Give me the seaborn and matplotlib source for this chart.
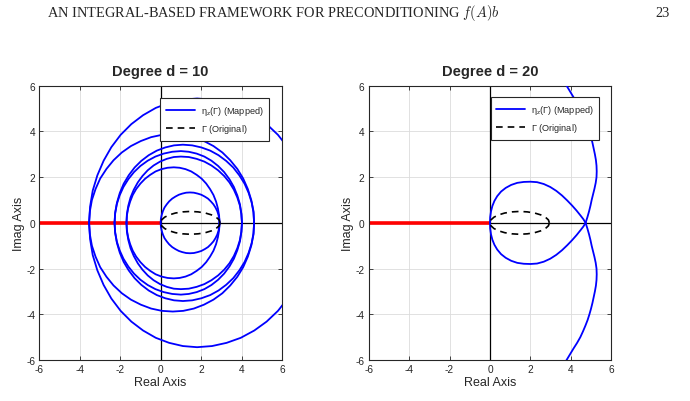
import numpy as np
import matplotlib
matplotlib.use('Agg')
import matplotlib.pyplot as plt
from matplotlib.lines import Line2D
import seaborn as sns

# ---- datos (mitad superior, la curva es simetrica) ----
ticks = [-6, -4, -2, 0, 2, 4, 6]
titulos = ['Degree d = 10', 'Degree d = 20']

# contorno original Gamma (mitad superior)
gamma_x = [2.94, 2.89, 2.74, 2.51, 2.21, 1.85, 1.47, 1.09, 0.73, 0.43, 0.20, 0.05, 0.00]
gamma_y = [0.00, 0.13, 0.25, 0.35, 0.43, 0.48, 0.50, 0.48, 0.43, 0.35, 0.25, 0.13, 0.00]

# d = 10, arcos de la curva mapeada
d10_arc0_x = [0.00, 0.01, 0.05, 0.11, 0.19, 0.30, 0.42, 0.57, 0.73, 0.90, 1.07, 1.26, 1.45,
              1.64, 1.83, 2.01, 2.18, 2.34, 2.48, 2.61, 2.71, 2.80, 2.86, 2.90, 2.91]
d10_arc0_y = [0.00, 0.17, 0.34, 0.51, 0.67, 0.81, 0.94, 1.06, 1.15, 1.23, 1.28, 1.32, 1.33,
              1.32, 1.28, 1.23, 1.15, 1.06, 0.94, 0.81, 0.67, 0.51, 0.34, 0.17, 0.00]
d10_arc1_x = [-1.69, -1.67, -1.61, -1.51, -1.38, -1.21, -1.00, -0.77, -0.52, -0.25, 0.04, 0.34, 0.65,
              0.94, 1.23, 1.51, 1.78, 2.03, 2.25, 2.44, 2.61, 2.74, 2.83, 2.89, 2.91]
d10_arc1_y = [0.00, 0.32, 0.63, 0.93, 1.22, 1.48, 1.72, 1.93, 2.10, 2.25, 2.35, 2.41, 2.43,
              2.41, 2.35, 2.25, 2.10, 1.93, 1.72, 1.48, 1.22, 0.93, 0.63, 0.32, 0.00]
d10_arc2_x = [-1.69, -1.67, -1.60, -1.49, -1.33, -1.13, -0.90, -0.64, -0.35, -0.03, 0.30, 0.65, 1.00,
              1.39, 1.78, 2.16, 2.51, 2.84, 3.14, 3.40, 3.62, 3.79, 3.92, 3.99, 4.02]
d10_arc2_y = [0.00, 0.38, 0.75, 1.11, 1.45, 1.77, 2.05, 2.30, 2.51, 2.68, 2.80, 2.88, 2.90,
              2.88, 2.80, 2.68, 2.51, 2.30, 2.05, 1.77, 1.45, 1.11, 0.75, 0.38, 0.00]
d10_arc3_x = [-2.28, -2.25, -2.17, -2.03, -1.84, -1.60, -1.32, -1.00, -0.64, -0.26, 0.15, 0.57, 1.00,
              1.39, 1.78, 2.16, 2.51, 2.84, 3.14, 3.40, 3.62, 3.79, 3.92, 3.99, 4.02]
d10_arc3_y = [0.00, 0.41, 0.81, 1.20, 1.57, 1.91, 2.22, 2.49, 2.72, 2.90, 3.03, 3.11, 3.14,
              3.11, 3.03, 2.90, 2.72, 2.49, 2.22, 1.91, 1.57, 1.20, 0.81, 0.41, 0.00]
d10_arc4_x = [-2.28, -2.25, -2.16, -2.02, -1.83, -1.58, -1.29, -0.96, -0.59, -0.19, 0.23, 0.66, 1.10,
              1.56, 2.01, 2.45, 2.86, 3.24, 3.59, 3.89, 4.15, 4.35, 4.50, 4.59, 4.62]
d10_arc4_y = [0.00, 0.45, 0.89, 1.31, 1.71, 2.08, 2.42, 2.71, 2.96, 3.16, 3.30, 3.39, 3.42,
              3.39, 3.30, 3.16, 2.96, 2.71, 2.42, 2.08, 1.71, 1.31, 0.89, 0.45, 0.00]
d10_arc5_x = [-3.54, -3.50, -3.40, -3.22, -2.99, -2.68, -2.33, -1.92, -1.47, -0.98, -0.47, 0.06, 0.60,
              1.12, 1.64, 2.14, 2.61, 3.05, 3.44, 3.79, 4.08, 4.31, 4.48, 4.59, 4.62]
d10_arc5_y = [0.00, 0.51, 1.00, 1.48, 1.94, 2.36, 2.74, 3.08, 3.36, 3.58, 3.75, 3.85, 3.88,
              3.85, 3.75, 3.58, 3.36, 3.08, 2.74, 2.36, 1.94, 1.48, 1.00, 0.51, 0.00]
d10_arc6_x = [-3.54, -3.49, -3.36, -3.13, -2.82, -2.44, -1.98, -1.45, -0.87, -0.24, 0.42, 1.10, 1.80,
              2.54, 3.26, 3.96, 4.63, 5.24, 5.80, 6.28]
d10_arc6_y = [0.00, 0.71, 1.41, 2.08, 2.72, 3.31, 3.85, 4.32, 4.71, 5.03, 5.25, 5.39, 5.44,
              5.39, 5.25, 5.03, 4.71, 4.32, 3.85, 3.31]

# d = 20
d20_arc0_x = [0.00, 0.01, 0.05, 0.12, 0.22, 0.36, 0.55, 0.78, 1.05, 1.35, 1.67, 2.00,
              2.33, 2.66, 2.98, 3.28, 3.56, 3.82, 4.06, 4.28, 4.48, 4.62, 4.73]
d20_arc0_y = [0.00, 0.25, 0.50, 0.74, 0.96, 1.17, 1.37, 1.53, 1.66, 1.75, 1.79, 1.80,
              1.78, 1.70, 1.57, 1.40, 1.20, 0.98, 0.76, 0.54, 0.32, 0.16, 0.00]
d20_arc1_x = [4.73, 4.82, 4.90, 4.97, 5.03, 5.10, 5.17, 5.23, 5.27, 5.28, 5.27, 5.24, 5.19,
              5.13, 5.07, 5.00, 4.92, 4.83, 4.72, 4.60, 4.47, 4.31, 4.13, 3.96, 3.79, 3.62]
d20_arc1_y = [0.00, 0.25, 0.50, 0.75, 1.00, 1.25, 1.50, 1.75, 2.00, 2.25, 2.50, 2.75, 3.00,
              3.25, 3.50, 3.75, 4.00, 4.25, 4.50, 4.75, 5.00, 5.25, 5.50, 5.75, 6.00, 6.25]

arcos_d10 = [(d10_arc0_x, d10_arc0_y), (d10_arc1_x, d10_arc1_y), (d10_arc2_x, d10_arc2_y),
             (d10_arc3_x, d10_arc3_y), (d10_arc4_x, d10_arc4_y), (d10_arc5_x, d10_arc5_y),
             (d10_arc6_x, d10_arc6_y)]
arcos_d20 = [(d20_arc0_x, d20_arc0_y), (d20_arc1_x, d20_arc1_y)]

sns.set_style('ticks')
plt.rcParams['font.family'] = ['Liberation Sans', 'DejaVu Sans']
plt.rcParams['mathtext.fontset'] = 'cm'
plt.rcParams['axes.unicode_minus'] = False

gris = '#262626'
fig = plt.figure(figsize=(6.9, 4.02), dpi=100)
ax1 = fig.add_axes([0.0570, 0.1020, 0.3517, 0.6823])
ax2 = fig.add_axes([0.5343, 0.1020, 0.3516, 0.6823])

# contorno cerrado de Gamma
gx = np.concatenate([gamma_x, gamma_x[::-1][1:]])
gy = np.concatenate([gamma_y, -np.array(gamma_y[::-1][1:])])

for ax, arcos, titulo, ancla in [(ax1, arcos_d10, titulos[0], (0.946, 0.954)),
                                 (ax2, arcos_d20, titulos[1], (0.950, 0.958))]:
    ax.set_xlim(-6, 6)
    ax.set_ylim(-6, 6)
    ax.grid(True, color='#dcdcdc', lw=0.6, zorder=0)
    ax.axhline(0, color='black', lw=0.9, zorder=1)
    ax.axvline(0, color='black', lw=0.9, zorder=1)
    ax.plot([-6, 0], [0, 0], color='red', lw=2.6, solid_capstyle='butt', zorder=2)
    for xs, ys in arcos:
        sns.lineplot(x=xs, y=ys, sort=False, estimator=None, color='blue', lw=1.3, ax=ax, zorder=3)
        sns.lineplot(x=xs, y=-np.array(ys), sort=False, estimator=None, color='blue', lw=1.3, ax=ax, zorder=3)
    sns.lineplot(x=gx, y=gy, sort=False, estimator=None, color='black', lw=1.2,
                 linestyle=(0, (4, 3)), ax=ax, zorder=4)

    ax.set_xticks(ticks)
    ax.set_yticks(ticks)
    ax.tick_params(direction='in', top=True, right=True, length=3, width=0.6,
                   labelsize=7.3, colors=gris, pad=3)
    for s in ax.spines.values():
        s.set_color(gris)
        s.set_linewidth(0.8)
    ax.set_xlabel('Real Axis', fontsize=9, color=gris, labelpad=1)
    ax.set_ylabel('Imag Axis', fontsize=9, color=gris, labelpad=1)
    ax.set_title(titulo, fontsize=10.5, fontweight='bold', pad=8)

    handles = [Line2D([], [], color='blue', lw=1.3),
               Line2D([], [], color='black', lw=1.2, linestyle=(0, (4, 3)))]
    labels = [r'$\mathregular{\eta_z(\Gamma)}$ (Mapped)', r'$\mathregular{\Gamma}$ (Original)']
    leg = ax.legend(handles, labels, loc='upper right', bbox_to_anchor=ancla,
                    fontsize=6.6, frameon=True, fancybox=False, borderaxespad=0,
                    handlelength=3.2, borderpad=0.6, labelspacing=0.6, handletextpad=0.6)
    leg.get_frame().set_edgecolor(gris)
    leg.get_frame().set_linewidth(0.8)
    leg.get_frame().set_alpha(1)
    leg.set_zorder(10)

# encabezado de la pagina
fig.text(0.068, 0.958, r'AN INTEGRAL-BASED FRAMEWORK FOR PRECONDITIONING $f(A)b$',
         family='Liberation Serif', fontsize=10.4, va='baseline', ha='left')
fig.text(0.97, 0.958, '23', family='Liberation Serif', fontsize=10.4, va='baseline', ha='right')

plt.savefig('out.png', dpi=100)
